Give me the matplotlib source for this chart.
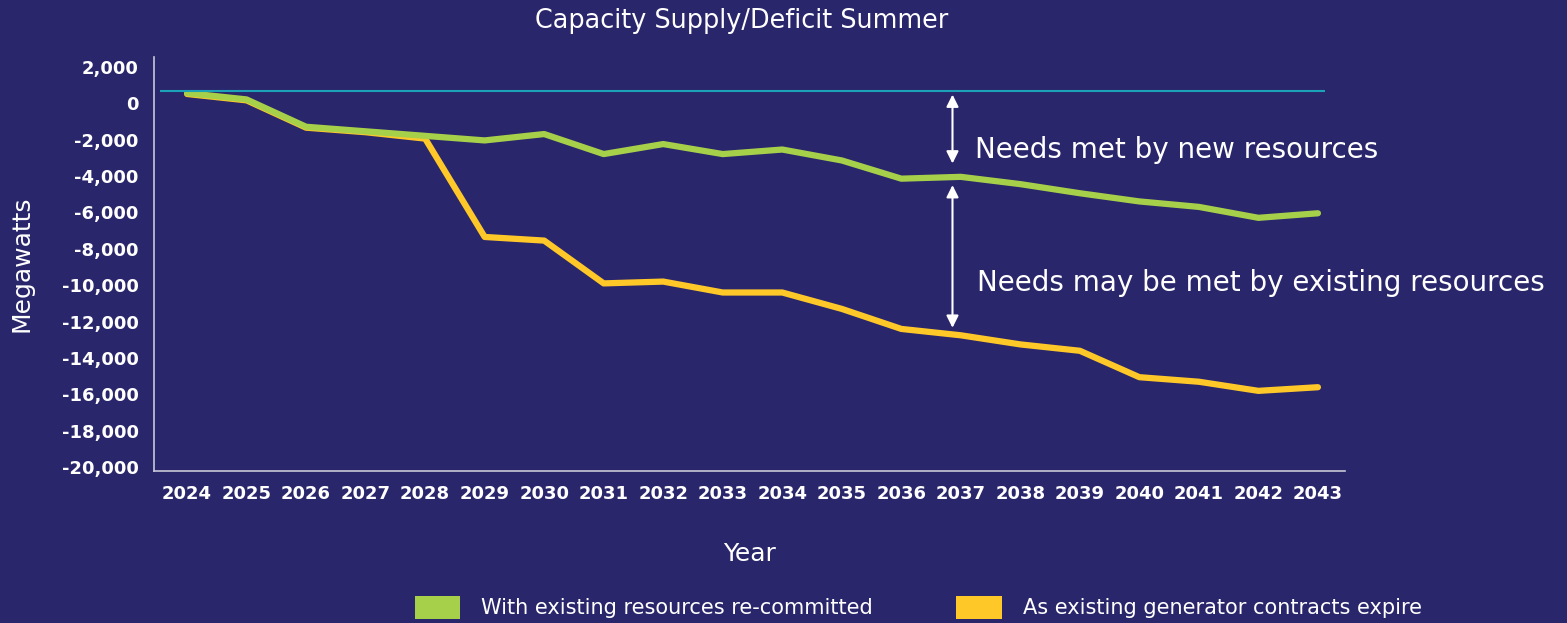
import matplotlib
matplotlib.use("Agg")
import matplotlib.pyplot as plt
from matplotlib.patches import Patch

years = list(range(2024, 2044))
recommitted = [550, 200, -1300, -1550, -1800, -2050, -1700, -2800, -2250, -2800,
               -2550, -3150, -4150, -4050, -4450, -4950, -5400, -5700, -6300, -6050]
contracts_expire = [500, 150, -1350, -1600, -1950, -7350, -7550, -9900, -9800, -10400,
                    -10400, -11300, -12400, -12750, -13250, -13600, -15050, -15300, -15800, -15600]
reference_level = 650
yticks = list(range(-20000, 2001, 2000))

BG = "#2a266b"
GREEN = "#a6d04a"
ORANGE = "#ffc829"
CYAN = "#1aa3b8"

fig = plt.figure(figsize=(15.67, 6.23), dpi=100, facecolor=BG)
ax = fig.add_axes([0.0983, 0.244, 0.76, 0.6645])
ax.set_facecolor(BG)

ax.plot(years, contracts_expire, color=ORANGE, linewidth=4.5, solid_capstyle="round", solid_joinstyle="round")
ax.plot(years, recommitted, color=GREEN, linewidth=4.5, solid_capstyle="round", solid_joinstyle="round")
ax.hlines(reference_level, 2023.55, 2043.12, color=CYAN, linewidth=1.5)

ax.set_xlim(2023.445, 2043.454)
ax.set_ylim(-20200, 2530)
ax.set_xticks(years)
ax.set_xticklabels([str(y) for y in years])
ax.set_yticks(yticks)
ax.set_yticklabels([f"{v:,}" for v in yticks])
ax.tick_params(length=0, colors="white", labelsize=13)
ax.tick_params(axis="y", pad=11)
ax.tick_params(axis="x", pad=10)
for lbl in ax.get_xticklabels() + ax.get_yticklabels():
    lbl.set_fontweight("bold")
    lbl.set_family("DejaVu Sans")

for side in ("top", "right"):
    ax.spines[side].set_visible(False)
for side in ("left", "bottom"):
    ax.spines[side].set_color("#c8c8d8")
    ax.spines[side].set_linewidth(1.2)

ax.set_xlabel("Year", color="white", fontsize=18, labelpad=28)
ax.set_ylabel("Megawatts", color="white", fontsize=18, labelpad=20)
fig.text(0.473, 0.967, "Capacity Supply/Deficit Summer", color="white", fontsize=18.4, ha="center", va="center")

# double-headed arrows marking the gaps
arrow_x = 2036.86
ax.annotate("", xy=(arrow_x, 620), xytext=(arrow_x, -3470),
            arrowprops=dict(arrowstyle="<|-|>", color="white", lw=1.5, mutation_scale=18))
ax.annotate("", xy=(arrow_x, -4350), xytext=(arrow_x, -12490),
            arrowprops=dict(arrowstyle="<|-|>", color="white", lw=1.5, mutation_scale=18))
ax.text(2037.24, -2590, "Needs met by new resources", color="white", fontsize=20,
        ha="left", va="center", clip_on=False)
ax.text(2037.28, -9900, "Needs may be met by existing resources", color="white", fontsize=20,
        ha="left", va="center", clip_on=False)

handles = [Patch(facecolor=GREEN, edgecolor="none", label="With existing resources re-committed"),
           Patch(facecolor=ORANGE, edgecolor="none", label="As existing generator contracts expire")]
leg = fig.legend(handles=handles, loc="center", bbox_to_anchor=(0.586, 0.025), ncol=2,
                 frameon=False, fontsize=15, handlelength=2.2, handleheight=1.3,
                 columnspacing=4.0, handletextpad=1.0)
for t in leg.get_texts():
    t.set_color("white")

fig.savefig("out.png", dpi=100, facecolor=BG)
